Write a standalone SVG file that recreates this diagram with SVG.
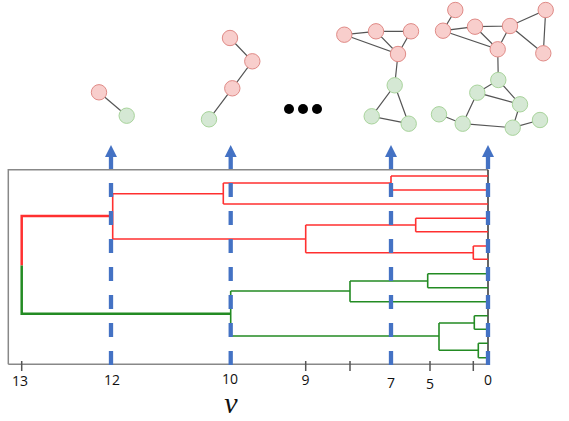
<svg xmlns="http://www.w3.org/2000/svg" width="569" height="421" viewBox="0 0 569 421">
<defs>
<style>
.e{stroke:#555;stroke-width:1.2;fill:none}
.r{fill:#f8cecc;stroke:#e08b87;stroke-width:1}
.g{fill:#d5e8d4;stroke:#a9d49c;stroke-width:1}
.red{stroke:#ff3030;stroke-width:1.6;fill:none}
.grn{stroke:#238b23;stroke-width:1.6;fill:none}
.thick{stroke-width:2.5}
.ax{stroke:#888;stroke-width:1.5;fill:none}
.tk{stroke:#555;stroke-width:1.5}
.dash{stroke:#4472c4;stroke-width:4.3;stroke-dasharray:14 14;fill:none;marker-end:url(#ah)}
.lbl{font-family:"Open Sans","Liberation Sans",sans-serif;font-size:14px;fill:#111;text-anchor:middle}
</style>
<marker id="ah" markerUnits="userSpaceOnUse" markerWidth="14" markerHeight="14" viewBox="0 0 14 14" refX="0" refY="7" orient="auto">
<path d="M0 1 L12 7 L0 13 Z" fill="#4472c4"/>
</marker>
</defs>

<g id="graph1">
<line class="e" x1="99" y1="92.3" x2="126.7" y2="115.7"/>
<circle class="r" cx="99" cy="92.3" r="7.7"/>
<circle class="g" cx="126.7" cy="115.7" r="7.7"/>
</g>

<g id="graph2">
<polyline class="e" points="230,38 252.3,61.3 232.3,88.3 209,119.3"/>
<circle class="r" cx="230" cy="38" r="7.7"/>
<circle class="r" cx="252.3" cy="61.3" r="7.7"/>
<circle class="r" cx="232.3" cy="88.3" r="7.7"/>
<circle class="g" cx="209" cy="119.3" r="7.7"/>
</g>

<g id="ellipsis">
<circle cx="289" cy="109" r="5" fill="#000"/>
<circle cx="303" cy="109" r="5" fill="#000"/>
<circle cx="317" cy="109" r="5" fill="#000"/>
</g>

<g id="graph3">
<path class="e" d="M344.3 34.7L376 31.3L411 31.3L398 54L344.3 34.7M376 31.3L398 54L394.7 85.3L371.7 116.3L408.7 123.7L394.7 85.3"/>
<circle class="r" cx="344.3" cy="34.7" r="7.7"/>
<circle class="r" cx="376" cy="31.3" r="7.7"/>
<circle class="r" cx="411" cy="31.3" r="7.7"/>
<circle class="r" cx="398" cy="54" r="7.7"/>
<circle class="g" cx="394.7" cy="85.3" r="7.7"/>
<circle class="g" cx="371.7" cy="116.3" r="7.7"/>
<circle class="g" cx="408.7" cy="123.7" r="7.7"/>
</g>

<g id="graph4">
<path class="e" d="M455.3 10L443 30.7L475 26.7L510 26L545.7 10L543.3 53.3L510 26L497.7 49.3L443 30.7M475 26.7L497.7 49.3L498.3 80L477.3 92.7L520 104.3L498.3 80M477.3 92.7L462.7 123.7L439 114.3M462.7 123.7L512.7 127.7L520 104.3M512.7 127.7L540 120"/>
<circle class="r" cx="455.3" cy="10" r="7.7"/>
<circle class="r" cx="443" cy="30.7" r="7.7"/>
<circle class="r" cx="475" cy="26.7" r="7.7"/>
<circle class="r" cx="510" cy="26" r="7.7"/>
<circle class="r" cx="545.7" cy="10" r="7.7"/>
<circle class="r" cx="497.7" cy="49.3" r="7.7"/>
<circle class="r" cx="543.3" cy="53.3" r="7.7"/>
<circle class="g" cx="498.3" cy="80" r="7.7"/>
<circle class="g" cx="477.3" cy="92.7" r="7.7"/>
<circle class="g" cx="520" cy="104.3" r="7.7"/>
<circle class="g" cx="439" cy="114.3" r="7.7"/>
<circle class="g" cx="462.7" cy="123.7" r="7.7"/>
<circle class="g" cx="512.7" cy="127.7" r="7.7"/>
<circle class="g" cx="540" cy="120" r="7.7"/>
</g>

<g id="frame">
<path class="ax" d="M8.3 364.3V169.7H488"/>
<line x1="488" y1="169.7" x2="488" y2="364.3" stroke="#333" stroke-width="1.5"/>
<line class="ax" x1="8.3" y1="364.3" x2="488" y2="364.3"/>
<g class="tk">
<line x1="21.7" y1="361" x2="21.7" y2="371"/>
<line x1="305.7" y1="361" x2="305.7" y2="371"/>
<line x1="350" y1="361" x2="350" y2="371"/>
<line x1="430" y1="361" x2="430" y2="371"/>
<line x1="473.3" y1="361" x2="473.3" y2="371"/>
</g>
</g>

<g id="dendrogram">
<path class="red" d="M391 176H488M391 190H488M391 176V190M223.3 183H391M223.3 204H488M223.3 183V204M112.7 193.7H223.3M112.7 239H305.7M112.7 193.7V239M415.7 218.3H488M415.7 231.7H488M415.7 218.3V231.7M473.3 246H488M473.3 259.3H488M473.3 246V259.3M305.7 225H415.7M305.7 252.7H473.3M305.7 225V252.7"/>
<path class="grn" d="M427.7 273.7H488M427.7 287.7H488M427.7 273.7V287.7M350 281H427.7M350 301.7H488M350 281V301.7M230.7 291H350M230.7 336H439M230.7 291V336M474.3 315.7H488M474.3 329.3H488M474.3 315.7V329.3M478.3 343.3H488M478.3 357.7H488M478.3 343.3V357.7M439 323H474.3M439 350.3H478.3M439 323V350.3"/>
<path class="red thick" d="M111 216H21.7V265.5"/>
<path class="grn thick" d="M21.7 265.5V313.7H230.7"/>
</g>

<g id="connectors">
<path class="dash" d="M111 365V157"/>
<path class="dash" d="M230.7 365V157"/>
<path class="dash" d="M391 365V157"/>
<path class="dash" d="M488 365V157"/>
</g>

<g id="labels">
<text class="lbl" x="20" y="386">13</text>
<text class="lbl" x="112" y="385">12</text>
<text class="lbl" x="230" y="384">10</text>
<text class="lbl" x="305.5" y="385">9</text>
<text class="lbl" x="391" y="388">7</text>
<text class="lbl" x="430" y="389">5</text>
<text class="lbl" x="488" y="385">0</text>
<text x="231" y="413" font-family="'Liberation Serif','DejaVu Serif',serif" font-style="italic" font-size="30" text-anchor="middle" fill="#111">ν</text>
</g>
</svg>
